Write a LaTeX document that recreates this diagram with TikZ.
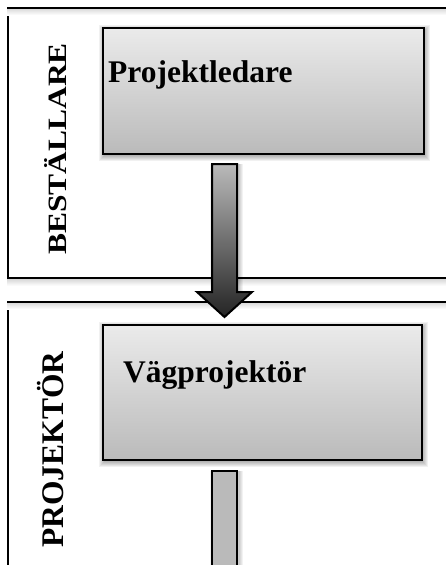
\documentclass[tikz,border=0pt]{standalone}
\usepackage{fontspec}
\setmainfont{Liberation Serif}
\usetikzlibrary{calc}
\tikzset{
  outerbox/.style={draw=black, line width=1.8pt, fill=white, anchor=north west, inner sep=0pt},
  innerbox/.style={draw=black, line width=2pt, top color=black!8, bottom color=black!27, anchor=north west, inner sep=0pt},
  boxtext/.style={font=\bfseries\fontsize{31.5}{36}\selectfont, anchor=base west, inner sep=0pt},
  sidelabel/.style={font=\bfseries\fontsize{31.5}{36}\selectfont, rotate=90, anchor=base, inner sep=0pt},
  arrowline/.style={draw=black, line width=2pt, line join=miter},
}
\newcommand\softshadow[3]{% sw, ne, opacity
  \foreach \r in {5,4,...,0}
    \fill[black, opacity=#3] ($(#1)+(2-\r,-3-\r)$) rectangle ($(#2)+(2+\r,-3+\r)$);
}
\newcommand\lineshade[2]{% left point, right point of a horizontal line
  \shade[top color=black!14, bottom color=white] ($(#1)+(0,-0.8)$) rectangle ($(#2)+(0,-7)$);
}
\begin{document}
\begin{tikzpicture}[x=1pt,y=1pt]
\useasboundingbox (0,-565) rectangle (446,0);
\clip (0,-565) rectangle (446,0);
\fill[white] (0,-565) rectangle (446,0);

% outer boxes
\node[outerbox, minimum width=445, minimum height=269] (zoneA) at (7,-8) {};
\node[outerbox, minimum width=445, minimum height=300] (zoneB) at (7,-302) {};
\lineshade{zoneA.north west}{zoneA.north east}
\lineshade{zoneA.south west}{zoneA.south east}
\lineshade{zoneB.north west}{zoneB.north east}
\draw[line width=1.8pt] (zoneA.north west) -- (zoneA.north east);
\draw[line width=1.8pt] (zoneB.north west) -- (zoneB.north east);

% side labels
\node[sidelabel] (labA) at (66,-149) {\scalebox{1}[0.84]{BESTÄLLARE}};
\node[sidelabel] (labB) at (63,-449.5) {PROJEKTÖR};

% inner box 1
\coordinate (pswA) at (102,-153);
\coordinate (pneA) at (423,-27);
\softshadow{pswA}{pneA}{0.055}
\node[innerbox, minimum width=321, minimum height=126] (boxA) at (102,-27) {};
\node[boxtext] (txtA) at (108,-82) {Projektledare};

% inner box 2
\coordinate (pswB) at (102,-459);
\coordinate (pneB) at (421,-324);
\softshadow{pswB}{pneB}{0.055}
\node[innerbox, minimum width=319, minimum height=135] (boxB) at (102,-324) {};
\node[boxtext] (txtB) at (123,-382) {Vägprojektör};

% arrow 1 (from box A to box B)
\coordinate (a1) at ($(boxA.south west)+(110,-9)$);
\coordinate (a1tip) at ($(boxB.north west)+(122.5,7)$);
\foreach \r in {4,3,2,1}
  \fill[black, opacity=0.05] ($(a1)+(2-\r,0)$) rectangle ($(a1)+(27+\r,-128)$);
\path[arrowline, top color=black!27, bottom color=black!86]
  (a1) -- ++(25,0) |- ++(15,-128) -- (a1tip) -- ($(a1)+(-15,-128)$) -- ($(a1)+(0,-128)$) -- cycle;

% arrow 2 (from box B downward)
\coordinate (a2) at ($(boxB.south west)+(110,-10)$);
\foreach \r in {4,3,2,1}
  \fill[black, opacity=0.05] ($(a2)+(2-\r,0)$) rectangle ($(a2)+(27+\r,-120)$);
\path[arrowline, fill=black!27] (a2) rectangle ($(a2)+(25,-120)$);
\end{tikzpicture}
\end{document}
